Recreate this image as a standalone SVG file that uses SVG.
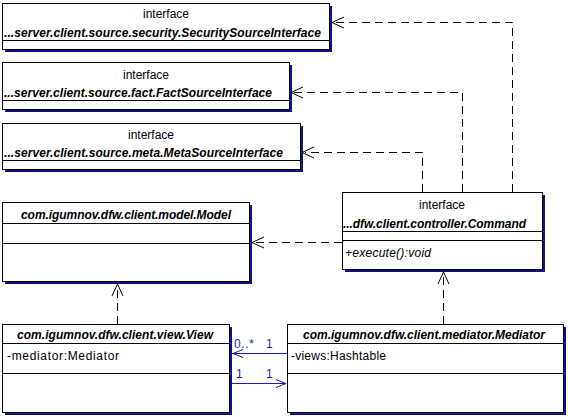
<svg xmlns="http://www.w3.org/2000/svg" width="568" height="417" viewBox="0 0 568 417">
<style>
.box{fill:#fff;stroke:#000;stroke-width:1}
.sh{fill:#101088}
.sep{stroke:#000;stroke-width:1}
text{font-family:"Liberation Sans",Arial,sans-serif;font-size:12px;fill:#000}
.nm{font-weight:bold;font-style:italic}
.it{font-style:italic}
.dep{fill:none;stroke:#000;stroke-width:1;stroke-dasharray:8,5}
.head{fill:none;stroke:#000;stroke-width:1}
.asc{fill:none;stroke:#1c1cb4;stroke-width:1}
.lbl{fill:#1c1cb4}
</style>
<rect width="568" height="417" fill="#fff"/>
<g id="connectors">
  <path class="dep" d="M512.5,192 V22.5 H335"/>
  <path class="head" d="M344,17 L332,22.5 L344,28"/>
  <path class="dep" d="M462.5,192 V92.5 H294"/>
  <path class="head" d="M303,87 L291,92.5 L303,98"/>
  <path class="dep" d="M422.5,192 V152.5 H305"/>
  <path class="head" d="M314,147 L302,152.5 L314,158"/>
  <path class="dep" d="M342,242.5 H255"/>
  <path class="head" d="M264,237 L252,242.5 L264,248"/>
  <path class="dep" d="M117.5,324 V287"/>
  <path class="head" d="M112,296 L117.5,284 L123,296"/>
  <path class="dep" d="M443.5,324 V275"/>
  <path class="head" d="M438,284 L443.5,272 L449,284"/>
  <path class="asc" d="M287,353.5 H232"/>
  <path class="asc" d="M243,349.5 L233,353.5 L243,357.5"/>
  <text class="lbl" x="234" y="348" textLength="20">0..*</text>
  <text class="lbl" x="266" y="348">1</text>
  <path class="asc" d="M232,383.5 H286"/>
  <path class="asc" d="M276,379.5 L286,383.5 L276,387.5"/>
  <text class="lbl" x="236" y="378">1</text>
  <text class="lbl" x="266" y="378">1</text>
</g>
<g id="security">
  <rect class="sh" x="5" y="6" width="327" height="46"/>
  <rect class="box" x="2.5" y="3.5" width="327" height="46"/>
  <text x="166" y="18" text-anchor="middle">interface</text>
  <text class="nm" x="4" y="37" textLength="317">...server.client.source.security.SecuritySourceInterface</text>
  <line class="sep" x1="2.5" y1="40.5" x2="329.5" y2="40.5"/>
</g>
<g id="fact">
  <rect class="sh" x="5" y="65" width="287" height="47"/>
  <rect class="box" x="2.5" y="62.5" width="287" height="47"/>
  <text x="146" y="79" text-anchor="middle">interface</text>
  <text class="nm" x="4" y="97" textLength="268">...server.client.source.fact.FactSourceInterface</text>
  <line class="sep" x1="2.5" y1="100.5" x2="289.5" y2="100.5"/>
</g>
<g id="meta">
  <rect class="sh" x="5" y="126" width="298" height="46"/>
  <rect class="box" x="2.5" y="123.5" width="298" height="46"/>
  <text x="151" y="139" text-anchor="middle">interface</text>
  <text class="nm" x="4" y="157" textLength="279">...server.client.source.meta.MetaSourceInterface</text>
  <line class="sep" x1="2.5" y1="160.5" x2="300.5" y2="160.5"/>
</g>
<g id="command">
  <rect class="sh" x="345" y="195" width="200" height="77"/>
  <rect class="box" x="342.5" y="192.5" width="200" height="77"/>
  <text x="442" y="209" text-anchor="middle">interface</text>
  <text class="nm" x="343" y="228" textLength="183">...dfw.client.controller.Command</text>
  <line class="sep" x1="342.5" y1="231.5" x2="542.5" y2="231.5"/>
  <line class="sep" x1="342.5" y1="240.5" x2="542.5" y2="240.5"/>
  <text class="it" x="345" y="257" textLength="86">+execute():void</text>
</g>
<g id="model">
  <rect class="sh" x="5" y="205" width="247" height="79"/>
  <rect class="box" x="2.5" y="202.5" width="247" height="79"/>
  <text class="nm" x="21" y="219" textLength="210">com.igumnov.dfw.client.model.Model</text>
  <line class="sep" x1="2.5" y1="223.5" x2="249.5" y2="223.5"/>
  <line class="sep" x1="2.5" y1="243.5" x2="249.5" y2="243.5"/>
</g>
<g id="view">
  <rect class="sh" x="5" y="327" width="227" height="88"/>
  <rect class="box" x="2.5" y="324.5" width="227" height="88"/>
  <text class="nm" x="17" y="339" textLength="196">com.igumnov.dfw.client.view.View</text>
  <line class="sep" x1="2.5" y1="343.5" x2="229.5" y2="343.5"/>
  <text x="7" y="360" textLength="112">-mediator:Mediator</text>
  <line class="sep" x1="2.5" y1="373.5" x2="229.5" y2="373.5"/>
</g>
<g id="mediator">
  <rect class="sh" x="290" y="327" width="276" height="88"/>
  <rect class="box" x="287.5" y="324.5" width="276" height="88"/>
  <text class="nm" x="303" y="339" textLength="242">com.igumnov.dfw.client.mediator.Mediator</text>
  <line class="sep" x1="287.5" y1="343.5" x2="563.5" y2="343.5"/>
  <text x="291" y="360" textLength="95">-views:Hashtable</text>
  <line class="sep" x1="287.5" y1="373.5" x2="563.5" y2="373.5"/>
</g>
</svg>
